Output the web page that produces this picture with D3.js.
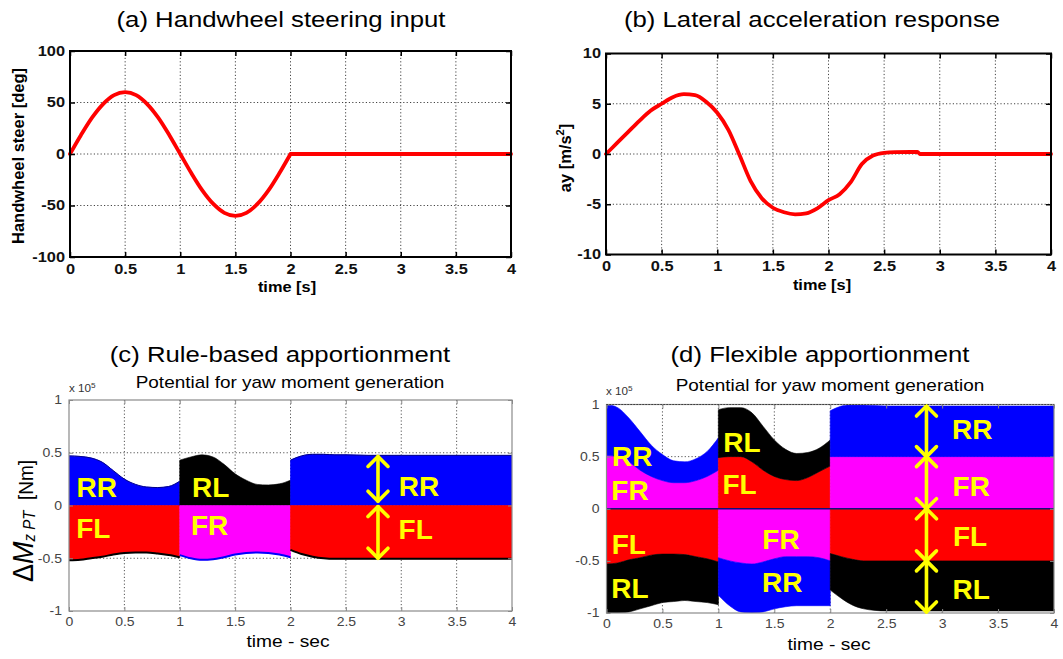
<!DOCTYPE html>
<html>
<head>
<meta charset="utf-8">
<script src="https://cdn.jsdelivr.net/npm/d3@7"></script>
<style>
  body { margin: 0; background: #fff; }
  svg { display: block; font-family: "Liberation Sans", Arial, Helvetica, sans-serif; }
</style>
</head>
<body>
<svg id="fig" width="1063" height="659"></svg>
<script>
// ---------- data ----------
const timeTicks = [0, 0.5, 1, 1.5, 2, 2.5, 3, 3.5, 4];
const timeTickLabels = ["0", "0.5", "1", "1.5", "2", "2.5", "3", "3.5", "4"];
const steerTicks = [-100, -50, 0, 50, 100];
const steerTickLabels = ["-100", "-50", "0", "50", "100"];
const ayTicks = [-10, -5, 0, 5, 10];
const ayTickLabels = ["-10", "-5", "0", "5", "10"];
const momentTicks = [-1, -0.5, 0, 0.5, 1];
const momentTickLabels = ["-1", "-0.5", "0", "0.5", "1"];

// (a) handwheel steering input [deg]; the input stops abruptly at 2 s
const steerTime = [0, 0.1, 0.2, 0.3, 0.4, 0.5, 0.6, 0.7, 0.8, 0.9, 1.0, 1.1, 1.2, 1.3, 1.4, 1.5, 1.6, 1.7, 1.8, 1.9, 2.0, 4.0];
const steerDeg = [0, 18.5, 35.3, 48.5, 57.1, 60, 57.1, 48.5, 35.3, 18.5, 0, -18.5, -35.3, -48.5, -57.1, -60, -57.1, -48.5, -35.3, -18.5, 0, 0];
const steerCornerTimes = [2.0];

// (b) lateral acceleration [m/s^2]
const ayTime = [0, 0.1, 0.2, 0.3, 0.4, 0.5, 0.6, 0.7, 0.8, 0.9, 1.0, 1.1, 1.2, 1.3, 1.4, 1.5, 1.6, 1.7, 1.8, 1.9, 2.0, 2.1, 2.2, 2.3, 2.4, 2.5, 2.6, 2.8, 2.82, 4.0];
const ayValue = [0, 1.1, 2.2, 3.3, 4.3, 5.0, 5.65, 5.95, 5.85, 5.2, 4.1, 2.4, -0.1, -2.7, -4.4, -5.35, -5.8, -6.0, -5.9, -5.4, -4.6, -4.0, -2.8, -1.0, -0.15, 0.12, 0.18, 0.2, 0.0, 0.0];
const ayCornerTimes = [];

// time bases of the three steering phases
const phase1Time = [0, 0.1, 0.2, 0.3, 0.4, 0.5, 0.6, 0.7, 0.8, 0.9, 1.0];
const phase2Time = [1.0, 1.1, 1.2, 1.3, 1.4, 1.5, 1.6, 1.7, 1.8, 1.9, 2.0];
const phase3Time = [2.0, 2.1, 2.2, 2.3, 2.4, 2.5, 2.7, 3.0, 4.0];

// (c) rule-based apportionment, yaw moment potential [x 1e5 Nm]
const ruleRR1 = [0.47, 0.465, 0.45, 0.41, 0.33, 0.25, 0.2, 0.175, 0.17, 0.18, 0.23];
const ruleFL1 = [-0.52, -0.515, -0.5, -0.485, -0.465, -0.45, -0.445, -0.445, -0.455, -0.47, -0.49];
const ruleRL2 = [0.43, 0.46, 0.48, 0.46, 0.39, 0.3, 0.24, 0.2, 0.195, 0.205, 0.24];
const ruleFR2 = [-0.47, -0.5, -0.515, -0.51, -0.49, -0.465, -0.45, -0.445, -0.45, -0.465, -0.49];
const ruleRR3 = [0.43, 0.47, 0.485, 0.485, 0.48, 0.48, 0.475, 0.475, 0.475];
const ruleFL3 = [-0.42, -0.46, -0.485, -0.5, -0.505, -0.505, -0.505, -0.505, -0.505];

// (d) flexible apportionment, cumulative layer boundaries [x 1e5 Nm]
const flexFR1 = [0.51, 0.5, 0.45, 0.37, 0.31, 0.27, 0.25, 0.25, 0.27, 0.31, 0.37];
const flexRR1 = [1.0, 0.97, 0.87, 0.74, 0.61, 0.52, 0.46, 0.45, 0.48, 0.55, 0.68];
const flexFL1 = [-0.53, -0.52, -0.49, -0.47, -0.445, -0.435, -0.435, -0.44, -0.46, -0.48, -0.51];
const flexRL1 = [-1.0, -1.0, -0.99, -0.96, -0.93, -0.9, -0.89, -0.88, -0.89, -0.9, -0.92];
const flexFL2 = [0.49, 0.5, 0.5, 0.45, 0.37, 0.31, 0.28, 0.27, 0.3, 0.355, 0.41];
const flexRL2 = [0.95, 0.97, 0.97, 0.92, 0.79, 0.66, 0.57, 0.53, 0.54, 0.58, 0.66];
const flexFR2 = [-0.47, -0.5, -0.52, -0.53, -0.51, -0.48, -0.46, -0.46, -0.46, -0.47, -0.5];
const flexRR2 = [-0.83, -0.93, -0.99, -1.0, -0.99, -0.96, -0.94, -0.93, -0.93, -0.93, -0.93];
const flexFR3 = [0.5, 0.5, 0.5, 0.5, 0.5, 0.5, 0.5, 0.5, 0.5];
const flexRR3 = [0.94, 0.985, 1.0, 0.995, 0.99, 0.985, 0.985, 0.985, 0.985];
const flexFL3 = [-0.43, -0.46, -0.485, -0.5, -0.5, -0.5, -0.5, -0.5, -0.5];
const flexRL3 = [-0.78, -0.86, -0.925, -0.96, -0.975, -0.98, -0.98, -0.98, -0.98];

// ---------- styling ----------
const wheelColor = { RR: "#0000ff", RL: "#000000", FL: "#ff0000", FR: "#ff00ff" };
const SX = 1.17;            // horizontal glyph stretch of the plot text
const svg = d3.select("#fig");
const zeros = t => t.map(() => 0);

function scalesFor(box, yDomain) {
  return {
    x: d3.scaleLinear().domain([0, 4]).range([box.left, box.right]),
    y: d3.scaleLinear().domain(yDomain).range([box.bottom, box.top])
  };
}

function stext(g, x, y, str, o) {
  return g.append("text")
    .attr("transform", `translate(${x},${y}) scale(${o.sx ?? SX},1)` + (o.rotate ? ` rotate(${o.rotate})` : ""))
    .attr("text-anchor", o.anchor || "middle")
    .attr("font-size", o.size)
    .attr("font-weight", o.weight || "normal")
    .attr("fill", o.fill || "#000")
    .text(str);
}

function drawGrid(g, x, y, xt, yt, st) {
  const gg = g.append("g").attr("stroke", st.gridColor).attr("stroke-width", 1)
    .attr("stroke-dasharray", st.gridDash).attr("fill", "none");
  const [yb, yt0] = y.range();
  const [xl, xr] = x.range();
  gg.selectAll(null).data(xt.slice(1, -1)).join("line")
    .attr("x1", d => x(d)).attr("x2", d => x(d)).attr("y1", yt0).attr("y2", yb);
  gg.selectAll(null).data(yt.slice(1, -1)).join("line")
    .attr("x1", xl).attr("x2", xr).attr("y1", d => y(d)).attr("y2", d => y(d));
}

function drawFrame(g, x, y, xt, xl, yt, yl, st) {
  const [yb, ytop] = y.range();
  const [xa, xb] = x.range();
  const style = sel => {
    sel.select(".domain").remove();
    sel.selectAll(".tick line").attr("stroke", st.tickColor).attr("stroke-width", st.tickWidth);
  };
  const bottom = g.append("g").attr("transform", `translate(0,${yb})`)
    .call(d3.axisBottom(x).tickValues(xt).tickFormat((d, i) => xl[i])
      .tickSizeInner(-st.tick).tickSizeOuter(0).tickPadding(st.padX)).call(style);
  bottom.selectAll("text").attr("font-family", null).attr("font-size", st.labelSize)
    .attr("font-weight", st.labelWeight).attr("fill", st.labelColor)
    .attr("transform", `scale(${SX},1)`);
  g.append("g").attr("transform", `translate(0,${ytop})`)
    .call(d3.axisTop(x).tickValues(xt).tickFormat("").tickSizeInner(-st.tick).tickSizeOuter(0)).call(style);
  const left = g.append("g").attr("transform", `translate(${xa},0)`)
    .call(d3.axisLeft(y).tickValues(yt).tickFormat((d, i) => yl[i])
      .tickSizeInner(-st.tick).tickSizeOuter(0).tickPadding(st.padY)).call(style);
  left.selectAll("text").attr("font-family", null).attr("font-size", st.labelSize)
    .attr("font-weight", st.labelWeight).attr("fill", st.labelColor)
    .attr("x", -st.padY / SX).attr("transform", `scale(${SX},1)`);
  g.append("g").attr("transform", `translate(${xb},0)`)
    .call(d3.axisRight(y).tickValues(yt).tickFormat("").tickSizeInner(-st.tick).tickSizeOuter(0)).call(style);
  g.append("rect").attr("x", xa).attr("y", ytop).attr("width", xb - xa).attr("height", yb - ytop)
    .attr("fill", "none").attr("stroke", st.frameColor).attr("stroke-width", st.frameWidth);
}

const lineStyle = {
  gridColor: "#444", gridDash: "1.2,2.2", tick: 5, tickColor: "#000", tickWidth: 1.5,
  padX: 7, padY: 5, labelSize: 14, labelWeight: "bold", labelColor: "#111",
  frameColor: "#000", frameWidth: 2
};
const areaStyle = {
  gridColor: "#555", gridDash: "1.2,2.2", tick: 4, tickColor: "#888", tickWidth: 1,
  padX: 6, padY: 7, labelSize: 12, labelWeight: "normal", labelColor: "#444",
  frameColor: "#8a8a8a", frameWidth: 1.2
};

// ---------- (a) and (b): time histories ----------
function linePanel(box, yDomain, yt, yl, tArr, vArr, corners) {
  const g = svg.append("g");
  const { x, y } = scalesFor(box, yDomain);
  drawGrid(g, x, y, timeTicks, yt, lineStyle);
  const pts = tArr.map((t, i) => [t, vArr[i]]);
  // split the trace at its kinks so the smoothing keeps the corners sharp
  const pieces = [];
  let cur = [];
  pts.forEach(p => {
    cur.push(p);
    if (corners.includes(p[0])) { pieces.push(cur); cur = [p]; }
  });
  if (cur.length > 1) pieces.push(cur);
  const gen = d3.line().x(d => x(d[0])).y(d => y(d[1])).curve(d3.curveMonotoneX);
  g.append("path").attr("d", pieces.map(gen).join(""))
    .attr("fill", "none").attr("stroke", "#ff0000").attr("stroke-width", 3.8)
    .attr("stroke-linejoin", "round").attr("stroke-linecap", "round");
  drawFrame(g, x, y, timeTicks, timeTickLabels, yt, yl, lineStyle);
  return g;
}

const boxA = { left: 70, right: 511, top: 51, bottom: 257 };
const boxB = { left: 606, right: 1051, top: 53.5, bottom: 254.5 };
linePanel(boxA, [-100, 100], steerTicks, steerTickLabels, steerTime, steerDeg, steerCornerTimes);
linePanel(boxB, [-10, 10], ayTicks, ayTickLabels, ayTime, ayValue, ayCornerTimes);

stext(svg, 281, 27, "(a) Handwheel steering input", { size: 22 });
stext(svg, 812, 27, "(b) Lateral acceleration response", { size: 22 });
stext(svg, 287, 292, "time [s]", { size: 14, weight: "bold" });
stext(svg, 822, 290, "time [s]", { size: 14, weight: "bold" });
stext(svg, 24, 156, "Handwheel steer [deg]", { size: 16.5, weight: "bold", rotate: -90, sx: 1.0 });
{
  const t = stext(svg, 571, 158, "", { size: 16.5, weight: "bold", rotate: -90, sx: 1.0 });
  t.append("tspan").text("ay [m/s");
  t.append("tspan").attr("font-size", 11).attr("dy", -7).text("2");
  t.append("tspan").attr("dy", 7).text("]");
}

// ---------- (c) and (d): yaw moment potential ----------
function areaPanel(box, layers, edges, labels, arrowX, arrows, id) {
  const g = svg.append("g");
  const { x, y } = scalesFor(box, [-1, 1]);
  drawGrid(g, x, y, timeTicks, momentTicks, areaStyle);
  g.append("clipPath").attr("id", id).append("rect")
    .attr("x", box.left).attr("y", box.top).attr("width", box.right - box.left).attr("height", box.bottom - box.top);
  const body = g.append("g").attr("clip-path", `url(#${id})`);
  const area = d3.area().x(d => x(d.t)).y0(d => y(d.lo)).y1(d => y(d.hi)).curve(d3.curveMonotoneX);
  const line = d3.line().x(d => x(d.t)).y(d => y(d.v)).curve(d3.curveMonotoneX);
  layers.forEach(L => {
    const pts = L.t.map((t, i) => ({ t, lo: L.lo[i], hi: L.hi[i] }));
    body.append("path").attr("d", area(pts)).attr("fill", wheelColor[L.wheel])
      .attr("stroke", wheelColor[L.wheel]).attr("stroke-width", 0.6);
  });
  edges.forEach(E => {
    const pts = E.t.map((t, i) => ({ t, v: E.v[i] }));
    body.append("path").attr("d", line(pts)).attr("fill", "none")
      .attr("stroke", E.color).attr("stroke-width", E.width);
  });
  drawFrame(g, x, y, timeTicks, timeTickLabels, momentTicks, momentTickLabels, areaStyle);

  // wheel labels
  labels.forEach(L => {
    g.append("text").attr("x", x(L.t)).attr("y", y(L.v)).attr("dy", "0.36em")
      .attr("text-anchor", "middle").attr("font-size", 28).attr("font-weight", "bold")
      .attr("fill", "#ffff00").text(L.name);
  });

  // double-headed arrows showing each wheel's share
  const ag = g.append("g").attr("stroke", "#ffff00").attr("stroke-width", 3.6)
    .attr("fill", "none").attr("stroke-linecap", "round").attr("stroke-linejoin", "round");
  const ax = x(arrowX);
  arrows.forEach(([a, b]) => {
    const ya = y(a), yb = y(b);
    ag.append("line").attr("x1", ax).attr("x2", ax).attr("y1", ya).attr("y2", yb);
    ag.append("path").attr("d", `M${ax - 10},${ya + 10}L${ax},${ya}L${ax + 10},${ya + 10}`);
    ag.append("path").attr("d", `M${ax - 10},${yb - 10}L${ax},${yb}L${ax + 10},${yb - 10}`);
  });
  return { g, x, y };
}

const boxC = { left: 69, right: 512, top: 400, bottom: 611 };
const boxD = { left: 606.5, right: 1054, top: 404.5, bottom: 613 };

const ruleLayers = [
  { wheel: "RR", t: phase1Time, lo: zeros(phase1Time), hi: ruleRR1 },
  { wheel: "FL", t: phase1Time, lo: zeros(phase1Time), hi: ruleFL1 },
  { wheel: "RL", t: phase2Time, lo: zeros(phase2Time), hi: ruleRL2 },
  { wheel: "FR", t: phase2Time, lo: zeros(phase2Time), hi: ruleFR2 },
  { wheel: "RR", t: phase3Time, lo: zeros(phase3Time), hi: ruleRR3 },
  { wheel: "FL", t: phase3Time, lo: zeros(phase3Time), hi: ruleFL3 }
];
const ruleEdges = [
  { t: phase1Time, v: ruleFL1, color: "#000", width: 2 },
  { t: phase2Time, v: ruleFR2, color: "#0000ff", width: 2 },
  { t: phase3Time, v: ruleFL3, color: "#000", width: 2 },
  { t: phase1Time, v: ruleRR1, color: "#00008a", width: 1 },
  { t: phase3Time, v: ruleRR3, color: "#00008a", width: 1 }
];
const ruleLabels = [
  { name: "RR", t: 0.25, v: 0.18 }, { name: "FL", t: 0.22, v: -0.215 },
  { name: "RL", t: 1.28, v: 0.18 }, { name: "FR", t: 1.27, v: -0.18 },
  { name: "RR", t: 3.16, v: 0.19 }, { name: "FL", t: 3.13, v: -0.22 }
];
areaPanel(boxC, ruleLayers, ruleEdges, ruleLabels, 2.79, [[0.465, 0.04], [-0.01, -0.5]], "clipC");

const flexLayers = [
  { wheel: "FR", t: phase1Time, lo: zeros(phase1Time), hi: flexFR1 },
  { wheel: "RR", t: phase1Time, lo: flexFR1, hi: flexRR1 },
  { wheel: "FL", t: phase1Time, lo: zeros(phase1Time), hi: flexFL1 },
  { wheel: "RL", t: phase1Time, lo: flexFL1, hi: flexRL1 },
  { wheel: "FL", t: phase2Time, lo: zeros(phase2Time), hi: flexFL2 },
  { wheel: "RL", t: phase2Time, lo: flexFL2, hi: flexRL2 },
  { wheel: "FR", t: phase2Time, lo: zeros(phase2Time), hi: flexFR2 },
  { wheel: "RR", t: phase2Time, lo: flexFR2, hi: flexRR2 },
  { wheel: "FR", t: phase3Time, lo: zeros(phase3Time), hi: flexFR3 },
  { wheel: "RR", t: phase3Time, lo: flexFR3, hi: flexRR3 },
  { wheel: "FL", t: phase3Time, lo: zeros(phase3Time), hi: flexFL3 },
  { wheel: "RL", t: phase3Time, lo: flexFL3, hi: flexRL3 }
];
const flexEdges = [
  { t: [0, 4], v: [0, 0], color: "#10107a", width: 1.6 }
];
const flexLabels = [
  { name: "RR", t: 0.23, v: 0.51 }, { name: "FR", t: 0.21, v: 0.18 },
  { name: "FL", t: 0.2, v: -0.34 }, { name: "RL", t: 0.21, v: -0.76 },
  { name: "RL", t: 1.21, v: 0.64 }, { name: "FL", t: 1.19, v: 0.24 },
  { name: "FR", t: 1.56, v: -0.29 }, { name: "RR", t: 1.57, v: -0.705 },
  { name: "RR", t: 3.27, v: 0.77 }, { name: "FR", t: 3.26, v: 0.22 },
  { name: "FL", t: 3.25, v: -0.265 }, { name: "RL", t: 3.26, v: -0.77 }
];
const pD = areaPanel(boxD, flexLayers, flexEdges, flexLabels, 2.86,
  [[0.985, 0.5], [0.5, 0.0], [0.0, -0.5], [-0.5, -0.99]], "clipD");
// dotted upper limit line on top of the frame
pD.g.append("line").attr("x1", boxD.left).attr("x2", boxD.right).attr("y1", boxD.top).attr("y2", boxD.top)
  .attr("stroke", "#222").attr("stroke-width", 1.2).attr("stroke-dasharray", "1.2,1.8");

// titles and axis text of the lower panels
stext(svg, 280, 362, "(c) Rule-based apportionment", { size: 22 });
stext(svg, 820, 362, "(d) Flexible apportionment", { size: 22 });
stext(svg, 290, 388, "Potential for yaw moment generation", { size: 16.2 });
stext(svg, 830, 391, "Potential for yaw moment generation", { size: 16.2 });
[[69, 392], [606, 395]].forEach(([px, py]) => {
  const t = stext(svg, px, py, "", { size: 10, anchor: "start", fill: "#333" });
  t.append("tspan").text("x 10");
  t.append("tspan").attr("font-size", 7).attr("dy", -4).text("5");
});
stext(svg, 288, 647, "time - sec", { size: 16.4 });
stext(svg, 829, 650, "time - sec", { size: 16.4 });
{
  const t = stext(svg, 32.5, 521, "", { size: 27, rotate: -90, sx: 1.1 });
  t.append("tspan").text("\u0394");
  t.append("tspan").attr("font-style", "italic").text("M");
  t.append("tspan").attr("font-style", "italic").attr("font-size", 15).attr("dy", 2).text("z PT");
  t.append("tspan").attr("font-size", 19).attr("dy", -2).text("\u00a0\u00a0[Nm]");
}
</script>
</body>
</html>
